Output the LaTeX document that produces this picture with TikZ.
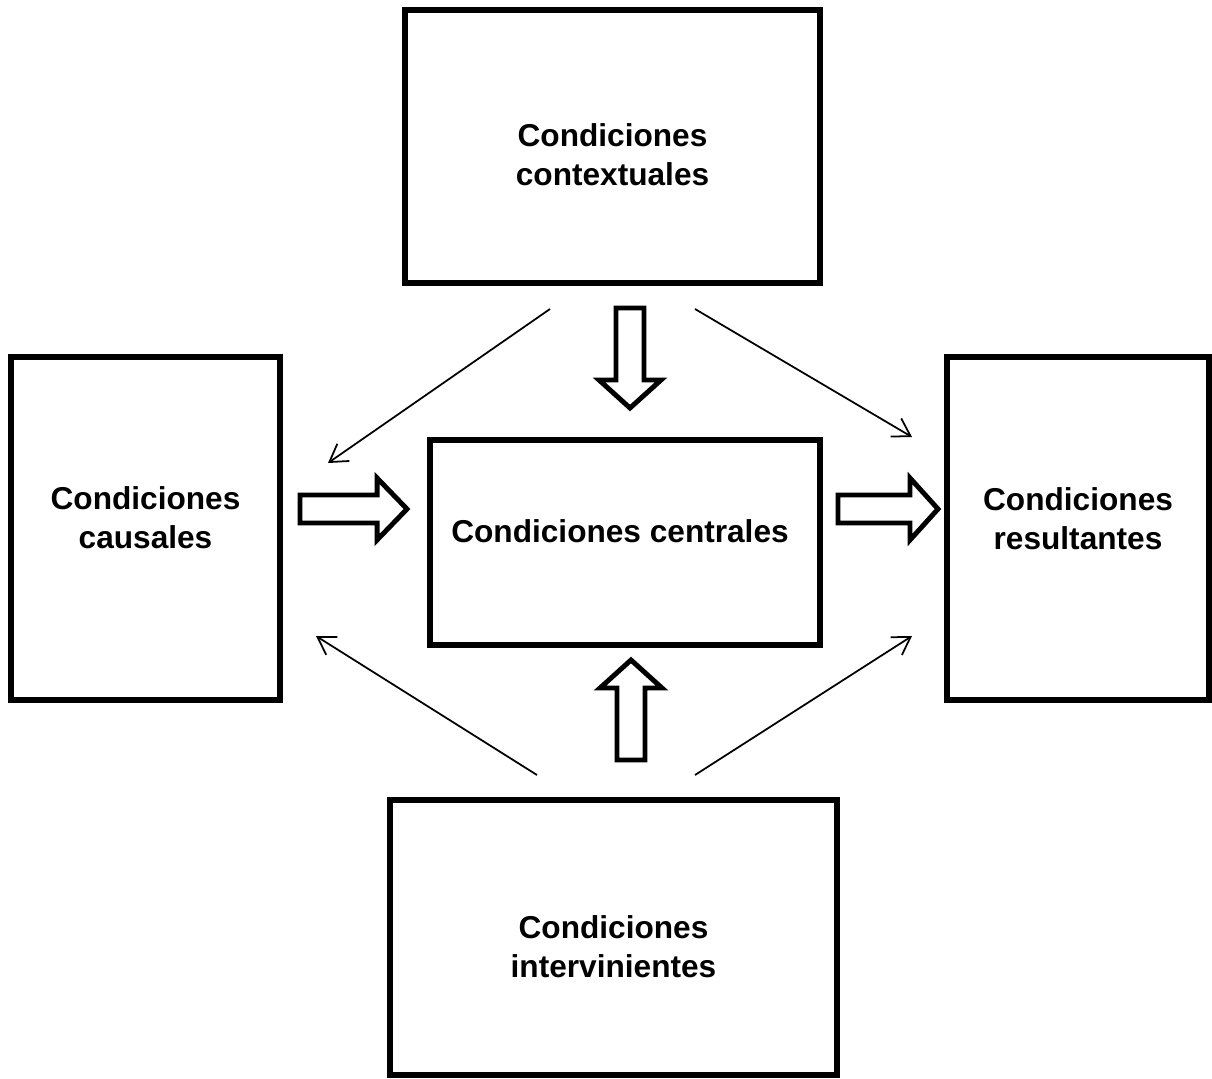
\documentclass[tikz,border=0pt]{standalone}
\usepackage{fontspec}
\setmainfont{Liberation Sans}
\usepackage{tikz}
\usetikzlibrary{positioning, arrows.meta}

\tikzset{
  box/.style={draw, line width=3pt, rectangle, inner sep=0pt},
  lbl/.style={font=\bfseries\fontsize{18}{22}\selectfont, align=center},
  thin/.style={line width=1pt, -{Straight Barb[length=3.4mm, width=4.2mm]}},
  hollowline/.style={draw, line width=2.8pt, miter limit=10, fill=white},
  hollow/.pic={\path[hollowline] (0,-14) -- (72,-14) -- (72,-31) -- (100,0) -- (72,31) -- (72,14) -- (0,14) -- cycle;}
}

\begin{document}
\begin{tikzpicture}[x=0.02cm, y=-0.02cm]
    \useasboundingbox (0,0) rectangle (1212,1078);
    \node[box, minimum width=8.30cm, minimum height=5.46cm,
          label={[lbl, yshift=-0.16cm]center:{Condiciones\\contextuales}}] (ctx) at (612.5,146.5) {};
    \node[box, minimum width=5.38cm, minimum height=6.86cm,
          label={[lbl, yshift=0.22cm]center:{Condiciones\\causales}}] (cau) at (145.5,528.5) {};
    \node[box, minimum width=7.80cm, minimum height=4.10cm,
          label={[lbl, yshift=0.22cm, xshift=-0.1cm]center:{Condiciones centrales}}] (cen) at (625,542.5) {};
    \node[box, minimum width=5.24cm, minimum height=6.86cm,
          label={[lbl, yshift=0.19cm]center:{Condiciones\\resultantes}}] (res) at (1078,528.5) {};
    \node[box, minimum width=8.94cm, minimum height=5.50cm,
          label={[lbl, yshift=-0.19cm]center:{Condiciones\\intervinientes}}] (int) at (613.5,937.5) {};

    \pic[rotate=-90] at (630,308) {hollow};
    \pic[xscale=1.07] at (300,509) {hollow};
    \pic at (838,509) {hollow};
    \pic[rotate=90] at (631,760) {hollow};

    \coordinate (ctxl) at (550,309);
    \coordinate (ctxr) at (695,309);
    \coordinate (caui) at (328,463);
    \coordinate (caue) at (316,636);
    \coordinate (resi) at (912,437);
    \coordinate (rese) at (912,636);
    \coordinate (intl) at (537,775);
    \coordinate (intr) at (695,775);

    \draw[thin] (ctxl) -- (caui);
    \draw[thin] (ctxr) -- (resi);
    \draw[thin] (intl) -- (caue);
    \draw[thin] (intr) -- (rese);
\end{tikzpicture}
\end{document}
